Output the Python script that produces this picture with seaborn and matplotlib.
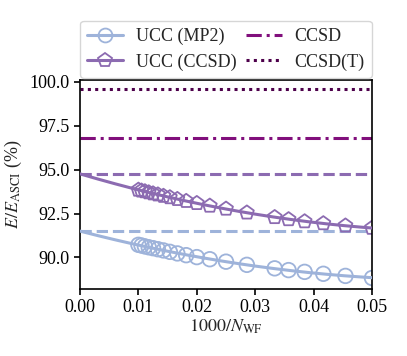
import matplotlib
matplotlib.use('agg')
import seaborn as sns
import matplotlib.pyplot as plt
from matplotlib.lines import Line2D
import numpy as np
import pandas as pd

# 1000 / N_WF for the determinant counts used
n_wf = [100000, 95000, 90000, 85000, 80000, 75000, 70000, 65000, 60000, 55000,
        50000, 45000, 40000, 35000, 30000, 28000, 26000, 24000, 22000, 20000]
ucc_mp2 = [90.72, 90.68, 90.63, 90.58, 90.53, 90.47, 90.40, 90.32, 90.23, 90.13,
           90.02, 89.90, 89.76, 89.58, 89.38, 89.28, 89.18, 89.07, 88.95, 88.83]
ucc_ccsd = [93.85, 93.80, 93.76, 93.70, 93.64, 93.58, 93.50, 93.42, 93.32, 93.21,
            93.09, 92.94, 92.77, 92.55, 92.29, 92.17, 92.05, 91.94, 91.81, 91.68]
ccsd = 96.78
ccsd_t = 99.59

c_mp2 = '#9eb3da'
c_ccsd_ucc = '#8c6bb1'
c_ccsd = '#810f7c'
c_ccsd_t = '#4d004b'

dashed = (0, (3.7, 1.6))
dashdot = (0, (5, 1.6, 1, 1.6))
dotted = (0, (1, 1.4))

sns.set_style('ticks')
plt.rcParams['font.family'] = ['Liberation Serif', 'DejaVu Serif']
plt.rcParams['mathtext.fontset'] = 'stix'
plt.rcParams['font.size'] = 13

df = pd.DataFrame({'x': [1000 / n for n in n_wf], 'mp2': ucc_mp2, 'ccsd': ucc_ccsd})

fig = plt.figure(figsize=(4.07, 3.56), dpi=100)
ax = fig.add_axes([0.1966, 0.188, 0.7174, 0.587])

xfit = np.linspace(0, 0.05, 200)
for col, color, mk in [('mp2', c_mp2, 'o'), ('ccsd', c_ccsd_ucc, 'p')]:
    sns.scatterplot(x='x', y=col, data=df, marker=mk, s=110, facecolors='none',
                    edgecolor=color, linewidth=1.3, ax=ax, zorder=2)
    coef = np.polyfit(df['x'], df[col], 2)
    fit = pd.DataFrame({'x': xfit, 'y': np.polyval(coef, xfit)})
    sns.lineplot(x='x', y='y', data=fit, color=color, lw=2.2, ax=ax, zorder=3)
    ax.axhline(coef[-1], color=color, lw=2.2, ls=dashed, zorder=1)

ax.axhline(ccsd, color=c_ccsd, lw=2.2, ls=dashdot)
ax.axhline(ccsd_t, color=c_ccsd_t, lw=2.2, ls=dotted)

ax.set_xlim(0, 0.05)
ax.set_ylim(88.2, 100.1)
ax.set_xticks([0, 0.01, 0.02, 0.03, 0.04, 0.05])
ax.set_xticklabels(['0.00', '0.01', '0.02', '0.03', '0.04', '0.05'])
ax.set_yticks([90, 92.5, 95, 97.5, 100])
ax.set_yticklabels(['90.0', '92.5', '95.0', '97.5', '100.0'])
ax.set_xlabel(r'$1000/N_{\mathrm{WF}}$', labelpad=1)
ax.set_ylabel(r'$E/E_{\mathrm{ASCI}}$ (%)', labelpad=4)
for s in ax.spines.values():
    s.set_color('black')
    s.set_linewidth(1.2)
ax.tick_params(colors='black', width=1.2, length=4)

handles = [
    Line2D([], [], color=c_mp2, lw=2.2, marker='o', ms=10, mfc='none', mew=1.3),
    Line2D([], [], color=c_ccsd_ucc, lw=2.2, marker='p', ms=10, mfc='none', mew=1.3),
    Line2D([], [], color=c_ccsd, lw=2.2, ls=dashdot),
    Line2D([], [], color=c_ccsd_t, lw=2.2, ls=dotted),
]
labels = ['UCC (MP2)', 'UCC (CCSD)', 'CCSD', 'CCSD(T)']
ax.legend(handles, labels, ncol=2, loc='lower left', bbox_to_anchor=(0, 1.01, 1, 0.2),
          mode='expand', fontsize=13, frameon=True, handlelength=2.0,
          handletextpad=0.7, borderaxespad=0, borderpad=0.4,
          columnspacing=0.6, labelspacing=0.45)

plt.savefig('out.png', dpi=100)
